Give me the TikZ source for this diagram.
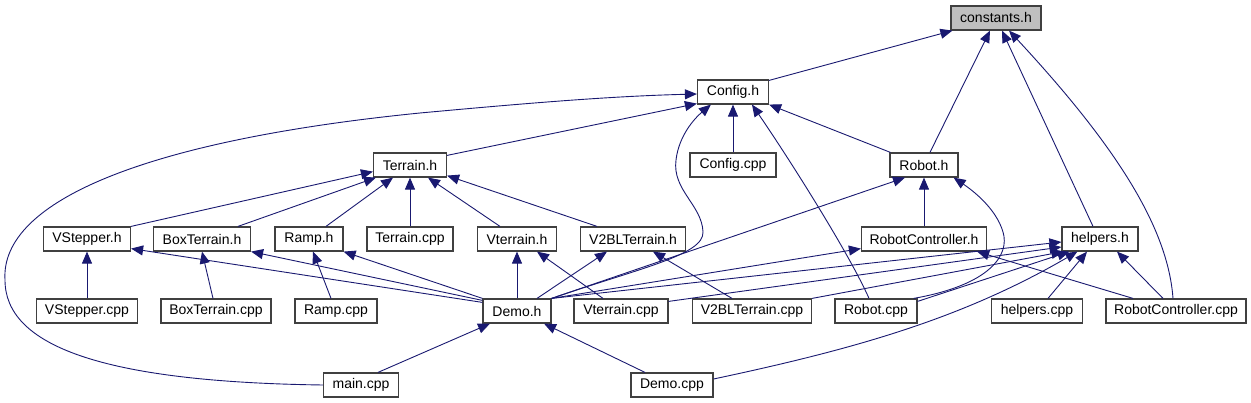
\documentclass[tikz,border=0pt]{standalone}
\usepackage{fontspec}
\setmainfont{Liberation Sans}
\usetikzlibrary{arrows.meta}
\definecolor{edgeblue}{HTML}{191970}
\definecolor{rootgray}{HTML}{BFBFBF}
\begin{document}
\begin{tikzpicture}[x=1pt, y=-1pt, >={Triangle[length=12pt,width=10pt]}, every node/.style={font=\fontsize{14}{16}\selectfont}, file/.style={draw=black!75, line width=1.2pt, fill=white, minimum height=24pt, inner sep=0pt}, arrow/.style={->, color=edgeblue, line width=0.9pt}]
\useasboundingbox (0,0) rectangle (1251,403);
% row 0 and 1
\node[file, fill=rootgray, minimum width=90pt] (const) at (996,18) {constants.h};
\node[file, minimum width=71pt] (cfg) at (733,92) {Config.h};
% row 2
\node[file, minimum width=73pt] (terh) at (410,165) {Terrain.h};
\node[file, minimum width=86pt] (cfgcpp) at (733,165) {Config.cpp};
\node[file, minimum width=68pt] (roboth) at (924,165) {Robot.h};
% row 3
\node[file, minimum width=87pt] (vsth) at (87,239) {VStepper.h};
\node[file, minimum width=97pt] (boxh) at (202,239) {BoxTerrain.h};
\node[file, minimum width=68pt] (ramph) at (309,239) {Ramp.h};
\node[file, minimum width=86pt] (tercpp) at (410,239) {Terrain.cpp};
\node[file, minimum width=79pt] (vterh) at (517,239) {Vterrain.h};
\node[file, minimum width=105pt] (v2blh) at (633,239) {V2BLTerrain.h};
\node[file, minimum width=125pt] (rch) at (924,239) {RobotController.h};
\node[file, minimum width=76pt] (helph) at (1100,239) {helpers.h};
% row 4
\node[file, minimum width=101pt] (vstcpp) at (87,311) {VStepper.cpp};
\node[file, minimum width=110pt] (boxcpp) at (216,311) {BoxTerrain.cpp};
\node[file, minimum width=82pt] (rampcpp) at (336,311) {Ramp.cpp};
\node[file, minimum width=68pt] (demoh) at (517,311) {Demo.h};
\node[file, minimum width=94pt] (vtercpp) at (621,311) {Vterrain.cpp};
\node[file, minimum width=119pt] (v2blcpp) at (752,311) {V2BLTerrain.cpp};
\node[file, minimum width=82pt] (robcpp) at (876,311) {Robot.cpp};
\node[file, minimum width=91pt] (helpcpp) at (1037,311) {helpers.cpp};
\node[file, minimum width=140pt] (rccpp) at (1176,311) {RobotController.cpp};
% row 5
\node[file, minimum width=75pt] (maincpp) at (361,385) {main.cpp};
\node[file, minimum width=82pt] (democpp) at (672,385) {Demo.cpp};
% into constants.h
\draw[arrow] ([yshift=-1]cfg.north east) -- ([xshift=2]const.south west);
\draw[arrow] ([xshift=6]roboth.north) -- ([xshift=-6]const.south);
\draw[arrow] ([xshift=-7]helph.north) -- ([xshift=6]const.south);
\draw[arrow] ([xshift=-3]rccpp.north) .. controls (1168,230) and (1120,150) .. ([xshift=13]const.south);
% into Config.h
\draw[arrow] ([yshift=-3]terh.north east) -- ([yshift=1]cfg.south west);
\draw[arrow] (maincpp.west) .. controls (100,382) and (5,345) .. (5,280) .. controls (0,200) and (150,140) .. (420,113) .. controls (550,101) and (620,96) .. ([yshift=-2]cfg.west);
\draw[arrow] (demoh.north east) .. controls (640,268) and (704,255) .. (703,232) .. controls (702,205) and (672,190) .. (676,160) .. controls (679,135) and (695,118) .. ([xshift=14]cfg.south west);
\draw[arrow] (cfgcpp) -- (cfg);
\draw[arrow] ([xshift=-7]robcpp.north) .. controls (850,255) and (790,160) .. ([xshift=19]cfg.south);
\draw[arrow] ([xshift=1]roboth.north west) -- (cfg.south east);
% into Terrain.h
\draw[arrow] (vsth.north east) -- ([yshift=6]terh.south west);
\draw[arrow] ([xshift=36]boxh.north) -- ([xshift=3]terh.south west);
\draw[arrow] ([xshift=17]ramph.north) -- ([xshift=-17]terh.south);
\draw[arrow] (tercpp) -- (terh);
\draw[arrow] ([xshift=-17]vterh.north) -- ([xshift=18]terh.south);
\draw[arrow] ([xshift=-36]v2blh.north) -- ([yshift=2]terh.south east);
% into Robot.h
\draw[arrow] (demoh.north east) -- ([xshift=-19]roboth.south);
\draw[arrow] (rch) -- (roboth);
\draw[arrow] ([xshift=-4]robcpp.north east) .. controls (990,285) and (1010,255) .. (1003,232) .. controls (996,208) and (972,190) .. ([xshift=-5]roboth.south east);
% row 3 headers from sources
\draw[arrow] (vstcpp) -- (vsth);
\draw[arrow] ([xshift=-3]boxcpp.north) -- (boxh.south);
\draw[arrow] ([xshift=-5]rampcpp.north) -- ([xshift=4]ramph.south);
\draw[arrow] ([yshift=-4]demoh.north west) -- ([yshift=3]vsth.south east);
\draw[arrow] ([yshift=-2]demoh.north west) -- (boxh.south east);
\draw[arrow] (demoh.north west) -- (ramph.south east);
\draw[arrow] (demoh) -- (vterh);
\draw[arrow] ([xshift=20]demoh.north) -- ([xshift=-26]v2blh.south);
\draw[arrow] ([xshift=-18]vtercpp.north) -- ([xshift=20]vterh.south);
\draw[arrow] ([xshift=-20]v2blcpp.north) -- ([xshift=20]v2blh.south);
\draw[arrow] (demoh.north east) -- ([yshift=3]rch.south west);
\draw[arrow] ([xshift=-43]rccpp.north) -- ([xshift=-10]rch.south east);
% into helpers.h
\draw[arrow] (demoh.north east) -- ([yshift=-3]helph.west);
\draw[arrow] ([yshift=-3]vtercpp.north east) -- ([yshift=-8]helph.west);
\draw[arrow] (v2blcpp.north east) -- ([xshift=2]helph.south west);
\draw[arrow] ([yshift=-3]robcpp.north east) -- ([xshift=8]helph.south west);
\draw[arrow] ([yshift=6]democpp.east) .. controls (850,350) and (960,320) .. ([xshift=16]helph.south west);
\draw[arrow] ([xshift=11]helpcpp.north) -- ([xshift=-13]helph.south);
\draw[arrow] ([xshift=-13]rccpp.north) -- ([xshift=17]helph.south);
% into Demo.h
\draw[arrow] ([xshift=17]maincpp.north) -- ([xshift=-27]demoh.south);
\draw[arrow] ([xshift=-27]democpp.north) -- ([xshift=27]demoh.south);
\end{tikzpicture}
\end{document}
